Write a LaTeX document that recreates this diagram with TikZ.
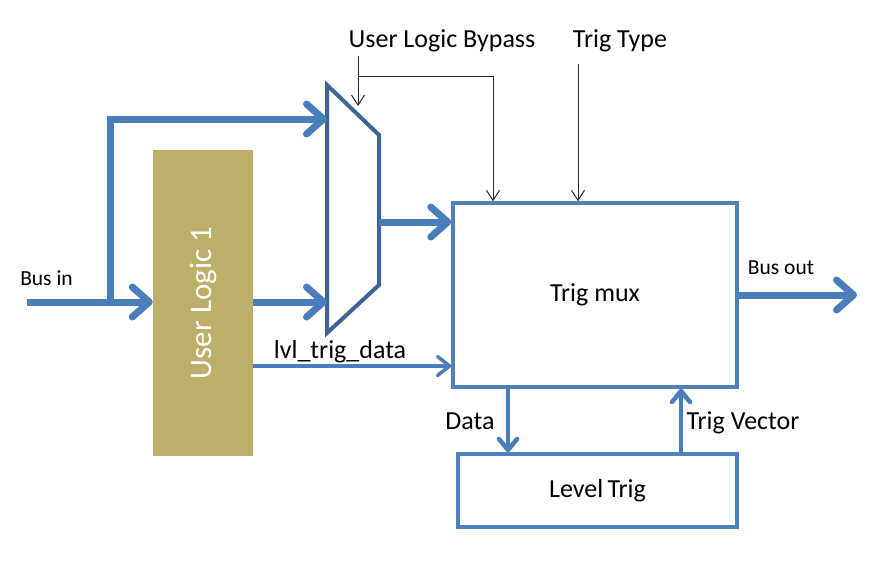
\documentclass[tikz,border=0pt]{standalone}
\usepackage{fontspec}
\setmainfont{Carlito}
\usetikzlibrary{arrows.meta}
\definecolor{busblue}{HTML}{4A7EBB}
\definecolor{boxblue}{HTML}{4F81BD}
\definecolor{muxblue}{HTML}{3C6494}
\definecolor{ulolive}{HTML}{BDAF69}
\tikzset{
  lbl/.style={font=\fontsize{26}{30}\selectfont, inner sep=0pt, text=black},
  slbl/.style={font=\fontsize{21.5}{25}\selectfont, inner sep=0pt, text=black},
  blk/.style={draw=boxblue, line width=3.5pt, fill=white, inner sep=0pt,
              font=\fontsize{26}{30}\selectfont},
  bus/.style={draw=busblue, line width=7pt,
              -{Straight Barb[length=17pt,width=30pt,round]}},
  busline/.style={draw=busblue, line width=7pt},
  midbus/.style={draw=busblue, line width=4.5pt,
              -{Straight Barb[length=11pt,width=18pt,round]}},
  thinbus/.style={draw=busblue, line width=3.5pt,
              -{Straight Barb[length=12pt,width=19pt,round]}},
  ctrl/.style={draw=black!85, line width=1pt,
              -{Straight Barb[length=10pt,width=13pt]}},
  ctrlline/.style={draw=black!85, line width=1pt}
}
\begin{document}
\begin{tikzpicture}[x=1pt,y=-1pt]
\useasboundingbox (0,0) rectangle (893,563);

% blocks
\node[blk, minimum width=284pt, minimum height=184pt] (tm) at (595,295) {Trig mux};
\node[blk, minimum width=279pt, minimum height=73pt] (lt) at (597.5,490.5) {Level\,Trig};
\node[fill=ulolive, minimum width=306pt, minimum height=100pt, rotate=90,
      inner sep=0pt, text=white, font=\fontsize{31}{36}\selectfont] (ul) at (203,303) {User Logic 1};

% mux trapezoid
\coordinate (m1) at (327,85);
\coordinate (m2) at (379,135);
\coordinate (m3) at (379,285);
\coordinate (m4) at (327,333);
\draw[draw=muxblue, line width=4pt, fill=white, line join=miter] (m1) -- (m2) -- (m3) -- (m4) -- cycle;

% coordinates
\coordinate (busin) at (27,302);
\coordinate (br) at (110,302);
\coordinate (mtop) at (327,119);
\coordinate (mout) at (379,222);
\coordinate (lvl) at (253,366);
\coordinate (dx) at (508,0);
\coordinate (tvx) at (681,0);
\coordinate (busout) at (857,295);
\coordinate (sel) at (358,106);
\coordinate (selj) at (358,76);
\coordinate (selr) at (493,76);
\coordinate (ttop) at (578,64);

% labels
\node[slbl] (lbusin) at (46.5,278) {Bus in};
\node[slbl] (lbusout) at (781,268) {Bus out};
\node[lbl] (ldata) at (470,421) {Data};
\node[lbl] (ltv) at (743,423) {Trig Vector};
\node[lbl] (llvl) at (340,352) {lvl\_trig\_data};
\node[lbl] (lulb) at (442,41) {User Logic Bypass};
\node[lbl] (ltt) at (620,41) {Trig Type};

% bus connectors
\draw[busline] (busin) -- (br);
\draw[bus] (br) -- (ul.north |- br);
\draw[bus, line join=miter] (br) -- (br |- mtop) -- (mtop);
\draw[bus] (ul.south |- br) -- (m4 |- br);
\draw[bus] (mout) -- (tm.west |- mout);
\draw[thinbus] (lvl) -- (tm.west |- lvl);
\draw[bus] (tm.east) -- (busout);
\draw[midbus] (tm.south -| dx) -- (lt.north -| dx);
\draw[midbus] (lt.north -| tvx) -- (tm.south -| tvx);

% control connectors
\draw[ctrl] (selj |- 0,56) -- (sel);
\draw[ctrlline] (selj) -- (selr);
\draw[ctrl] (selr) -- (tm.north -| selr);
\draw[ctrl] (ttop) -- (tm.north -| ttop);
\end{tikzpicture}
\end{document}
